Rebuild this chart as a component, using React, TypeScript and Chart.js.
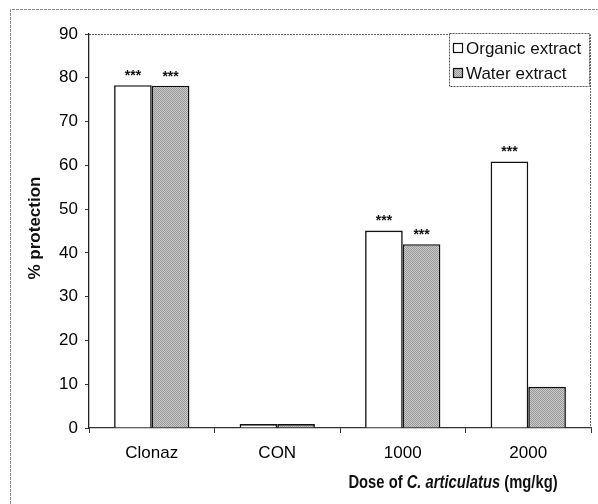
import React, { useEffect, useRef } from "react";
import { Chart, registerables } from "chart.js";

Chart.register(...registerables);

const categories = ["Clonaz", "CON", "1000", "2000"];
const organicValues = [78.3, 0.9, 45.1, 60.9];
const waterValues = [78.2, 0.9, 42.0, 9.4];
const organicSig = ["***", "", "***", "***"];
const waterSig = ["***", "", "***", ""];
const seriesNames = ["Organic extract", "Water extract"];
const yTitle = "% protection";
const xTitleParts = [
  { text: "Dose of ", italic: false },
  { text: "C. articulatus", italic: true },
  { text: " (mg/kg)", italic: false },
];

const W = 598;
const H = 504;
const FONT = "'Liberation Sans', Arial, Helvetica, sans-serif";

function makePattern(): CanvasPattern | string {
  const c = document.createElement("canvas");
  c.width = 2;
  c.height = 2;
  const g = c.getContext("2d");
  if (!g) return "#b0b0b0";
  g.fillStyle = "#cacaca";
  g.fillRect(0, 0, 2, 2);
  g.fillStyle = "#989898";
  g.fillRect(0, 0, 1, 1);
  g.fillRect(1, 1, 1, 1);
  const p = g.createPattern(c, "repeat");
  return p || "#b0b0b0";
}

const decorPlugin = {
  id: "decor",
  beforeDraw(chart: any) {
    const ctx = chart.ctx;
    ctx.save();
    ctx.fillStyle = "#ffffff";
    ctx.fillRect(0, 0, chart.width, chart.height);
    ctx.strokeStyle = "#8a8a8a";
    ctx.lineWidth = 1;
    ctx.setLineDash([3, 1]);
    ctx.beginPath();
    ctx.moveTo(10.5, H);
    ctx.lineTo(10.5, 9.5);
    ctx.lineTo(W, 9.5);
    ctx.stroke();
    const a = chart.chartArea;
    ctx.strokeStyle = "#666";
    ctx.setLineDash([2, 1]);
    ctx.beginPath();
    ctx.moveTo(a.left, a.top + 0.5);
    ctx.lineTo(a.right - 0.5, a.top + 0.5);
    ctx.lineTo(a.right - 0.5, a.bottom);
    ctx.stroke();
    ctx.restore();
  },
  afterDraw(chart: any) {
    const ctx = chart.ctx;
    ctx.save();
    // significance stars
    ctx.fillStyle = "#111";
    ctx.font = "bold 14px " + FONT;
    ctx.textAlign = "center";
    ctx.textBaseline = "middle";
    const sigs = [organicSig, waterSig];
    sigs.forEach((arr, di) => {
      const meta = chart.getDatasetMeta(di);
      meta.data.forEach((bar: any, i: number) => {
        if (arr[i]) ctx.fillText(arr[i], bar.x, bar.y - 9);
      });
    });
    // y title
    ctx.font = "bold 17px " + FONT;
    ctx.fillStyle = "#111";
    ctx.translate(35, 228);
    ctx.rotate(-Math.PI / 2);
    ctx.textAlign = "center";
    ctx.textBaseline = "middle";
    ctx.fillText(yTitle, 0, 0);
    ctx.setTransform(1, 0, 0, 1, 0, 0);
    // x title (narrow bold, horizontally condensed)
    const sx = 0.82;
    const fonts = xTitleParts.map((p) => (p.italic ? "italic " : "") + "bold 18px " + FONT);
    let total = 0;
    const widths = xTitleParts.map((p, i) => {
      ctx.font = fonts[i];
      const w = ctx.measureText(p.text).width;
      total += w;
      return w;
    });
    ctx.translate(453 - (total * sx) / 2, 483);
    ctx.scale(sx, 1);
    let x = 0;
    ctx.textAlign = "left";
    ctx.textBaseline = "middle";
    xTitleParts.forEach((p, i) => {
      ctx.font = fonts[i];
      ctx.fillText(p.text, x, 0);
      x += widths[i];
    });
    ctx.setTransform(1, 0, 0, 1, 0, 0);
    // legend
    const lx = 449, ly = 33, lw = 140, lh = 53;
    ctx.fillStyle = "#fff";
    ctx.fillRect(lx, ly, lw, lh);
    ctx.strokeStyle = "#555";
    ctx.lineWidth = 1;
    ctx.setLineDash([2, 1]);
    ctx.strokeRect(lx + 0.5, ly + 0.5, lw, lh);
    ctx.setLineDash([]);
    const fills = [chart.data.datasets[0].backgroundColor, chart.data.datasets[1].backgroundColor];
    const rows = [48, 73];
    ctx.font = "17px " + FONT;
    ctx.textBaseline = "middle";
    seriesNames.forEach((name, i) => {
      const y = rows[i];
      ctx.fillStyle = fills[i];
      ctx.fillRect(453, y - 4.5, 9, 9);
      ctx.strokeStyle = "#111";
      ctx.lineWidth = 1.2;
      ctx.strokeRect(453.5, y - 4.5, 9, 9);
      ctx.fillStyle = "#111";
      ctx.fillText(name, 466, y + 1);
    });
    ctx.restore();
  },
};

export default function App() {
  const ref = useRef<HTMLCanvasElement | null>(null);
  useEffect(() => {
    if (!ref.current) return;
    const pattern = makePattern();
    const chart = new Chart(ref.current, {
      type: "bar",
      data: {
        labels: categories,
        datasets: [
          {
            label: seriesNames[0],
            data: organicValues,
            backgroundColor: "#ffffff",
            borderColor: "#111",
            borderWidth: 1.6,
            categoryPercentage: 0.6,
            barPercentage: 1.0,
          },
          {
            label: seriesNames[1],
            data: waterValues,
            backgroundColor: pattern as any,
            borderColor: "#111",
            borderWidth: 1.6,
            categoryPercentage: 0.6,
            barPercentage: 1.0,
          },
        ],
      },
      options: {
        responsive: false,
        animation: false,
        devicePixelRatio: 1,
        layout: { padding: { left: 0, top: 34, right: 7, bottom: 0 } },
        plugins: {
          legend: { display: false },
          tooltip: { enabled: false },
        },
        scales: {
          x: {
            afterFit: (s: any) => {
              s.height = 76;
            },
            grid: {
              offset: true,
              drawOnChartArea: false,
              drawTicks: true,
              tickLength: 5,
              color: "#333",
            },
            border: { display: true, color: "#333", width: 1.2, dash: [3, 1] },
            ticks: {
              color: "#000",
              font: { family: FONT, size: 17 },
              padding: 10,
            },
          },
          y: {
            min: 0,
            max: 90,
            afterFit: (s: any) => {
              s.width = 89;
            },
            ticks: {
              stepSize: 10,
              color: "#000",
              font: { family: FONT, size: 17 },
              padding: 7,
            },
            grid: {
              drawOnChartArea: false,
              drawTicks: true,
              tickLength: 4,
              color: "#333",
            },
            border: { display: true, color: "#222", width: 1.3 },
          },
        },
      },
      plugins: [decorPlugin],
    });
    return () => chart.destroy();
  }, []);
  return (
    <div style={{ position: "fixed", left: 0, top: 0, width: W, height: H, background: "#fff" }}>
      <canvas ref={ref} width={W} height={H} style={{ width: W, height: H, display: "block" }} />
    </div>
  );
}
